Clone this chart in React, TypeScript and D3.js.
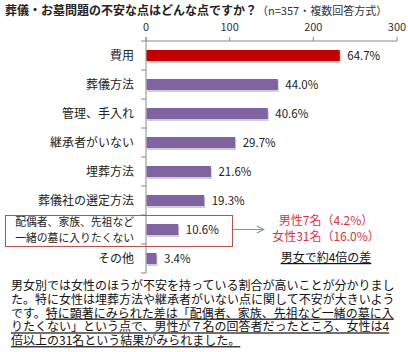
import React from 'react';
import * as d3 from 'd3';

const WIDTH = 408;
const HEIGHT = 352;
const FONT = '"Noto Sans CJK JP", "Noto Sans", sans-serif';

// 回答数（n=357）とラベル
const categories = ['費用', '葬儀方法', '管理、手入れ', '継承者がいない', '埋葬方法', '葬儀社の選定方法', '配偶者', 'その他'];
const counts = [231, 157, 145, 106, 77, 69, 38, 12];
const pctLabels = ['64.7%', '44.0%', '40.6%', '29.7%', '21.6%', '19.3%', '10.6%', '3.4%'];
const xTicks = [0, 100, 200, 300];
const noteLines = ['男性7名（4.2%）', '女性31名（16.0%）'];

const paragraph: [string, string][] = [
  ['男女別では女性のほうが不安を持っている割合が高いことが分かりまし', ''],
  ['た。特に女性は埋葬方法や継承者がいない点に関して不安が大きいよう', ''],
  ['です。', '特に顕著にみられた差は「配偶者、家族、先祖など一緒の墓に入'],
  ['', 'りたくない」という点で、男性が７名の回答者だったところ、女性は4'],
  ['', '倍以上の31名という結果がみられました。'],
];

const App = () => {
  const x = d3.scaleLinear().domain([0, 300]).range([146, 397]);
  const y = d3.scaleBand<string>().domain(categories).range([41, 273]).paddingInner(0.62).paddingOuter(0.31);
  const gap = (y.step() - y.bandwidth()) / 2;
  const boundaries = categories.map((c) => (y(c) as number) - gap).concat([273]);
  const hl = y('配偶者') as number;
  const hlMid = hl + y.bandwidth() / 2;

  return (
    <svg
      width={WIDTH}
      height={HEIGHT}
      style={{ position: 'absolute', left: 0, top: 0, background: '#fff' }}
      fontFamily={FONT}
    >
      <defs>
        <marker id="arrow" viewBox="0 0 10 10" refX="9" refY="5" markerWidth="9" markerHeight="9" orient="auto">
          <path d="M1,1 L9,5 L1,9" fill="none" stroke="#7f92ad" strokeWidth={1.2} />
        </marker>
      </defs>
      {/* タイトル */}
      <text x={5} y={15} fontSize={12} fontWeight="bold" fill="#222">
        葬儀・お墓問題の不安な点はどんな点ですか？
        <tspan fontSize={11} fontWeight="normal" fill="#333">（n=357・複数回答方式）</tspan>
      </text>

      {/* x軸 */}
      <line x1={x(0)} x2={x(300)} y1={41} y2={41} stroke="#888" />
      {xTicks.map((t) => (
        <g key={t}>
          <line x1={x(t)} x2={x(t)} y1={37} y2={41} stroke="#888" />
          <text x={x(t)} y={31} fontSize={11} textAnchor="middle" fill="#333">
            {t}
          </text>
        </g>
      ))}

      {/* y軸 */}
      <line x1={x(0)} x2={x(0)} y1={37} y2={273} stroke="#888" />
      {boundaries.map((b, i) => (
        <line key={i} x1={x(0) - 5} x2={x(0)} y1={b} y2={b} stroke="#888" />
      ))}

      {/* バー */}
      {categories.map((c, i) => {
        const by = y(c) as number;
        return (
          <g key={c}>
            <rect x={x(0) + 1.5} y={by + 2} width={x(counts[i]) - x(0)} height={y.bandwidth()} fill="#cfcfd4" />
            <rect x={x(0) + 0.5} y={by} width={x(counts[i]) - x(0)} height={y.bandwidth()} fill={i === 0 ? '#c00000' : '#8064a2'} />
            <text x={x(counts[i]) + 8} y={by + y.bandwidth() / 2 + 4} fontSize={11.5} fill="#222">
              {pctLabels[i]}
            </text>
            {c !== '配偶者' && (
              <text x={134} y={by + y.bandwidth() / 2 + 4} fontSize={12} textAnchor="end" fill="#222">
                {c}
              </text>
            )}
          </g>
        );
      })}
      <text x={134} textAnchor="end" fontSize={10.8} fill="#222">
        <tspan x={134} y={hlMid - 4}>配偶者、家族、先祖など</tspan>
        <tspan x={134} y={hlMid + 12}>一緒の墓に入りたくない</tspan>
      </text>

      {/* 強調枠と注記 */}
      <rect x={5.5} y={215.5} width={227} height={31} fill="none" stroke="#c0504d" strokeWidth={1} />
      <line x1={233} x2={264} y1={hlMid} y2={hlMid} stroke="#7f92ad" strokeWidth={1} markerEnd="url(#arrow)" />
      {noteLines.map((t, i) => (
        <text key={t} x={326} y={hlMid - 5 + i * 16} fontSize={12} textAnchor="middle" fill="#d9363e">
          {t}
        </text>
      ))}
      <text x={326} y={262} fontSize={12} textAnchor="middle" fill="#111" textDecoration="underline">
        男女で約4倍の差
      </text>

      {/* 本文 */}
      {paragraph.map(([plain, under], i) => (
        <text key={i} x={11} y={290 + i * 13.8} fontSize={12} fill="#111">
          {plain}
          {under && <tspan textDecoration="underline">{under}</tspan>}
        </text>
      ))}
    </svg>
  );
};

export default App;
